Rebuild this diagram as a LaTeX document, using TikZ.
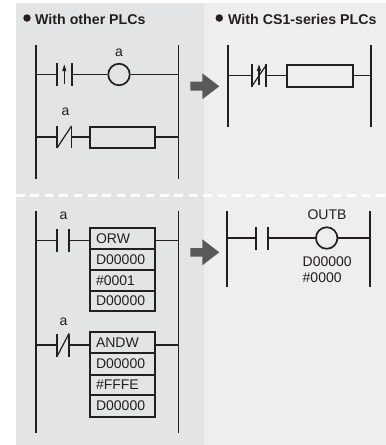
\documentclass[tikz,border=0pt]{standalone}
\usepackage{fontspec}
\setmainfont{Liberation Sans}
\definecolor{ink}{HTML}{231F20}
\definecolor{panelL}{HTML}{E3E4E6}
\definecolor{panelR}{HTML}{EEEEEE}
\definecolor{arrowgray}{HTML}{58595B}
\tikzset{
  rail/.style={draw=ink,line width=1.7pt},
  wire/.style={draw=ink,line width=1.5pt},
  bar/.style={draw=ink,line width=1.7pt},
  thin/.style={draw=ink,line width=1.2pt},
  coil/.style={circle,draw=ink,line width=1.7pt,minimum size=21.5pt,inner sep=0pt},
  fbox/.style={rectangle,draw=ink,line width=1.9pt,minimum width=65.5pt,minimum height=21.5pt,inner sep=0pt},
  cell/.style={fbox,text width=52.5pt,align=left,text=ink,font=\fontsize{14}{14}\selectfont},
  lab/.style={text=ink,inner sep=0pt,font=\fontsize{14}{14}\selectfont},
  title/.style={text=ink,inner sep=0pt,anchor=west,font=\fontsize{14.2}{16}\bfseries\selectfont},
  dot/.style={circle,fill=ink,minimum size=7.5pt,inner sep=0pt},
  bigarrow/.style={fill=arrowgray,draw=none},
}
\begin{document}
\begin{tikzpicture}[x=1pt,y=-1pt]
\useasboundingbox (0,0) rectangle (386,445);
% panels
\fill[panelL] (16,3) rectangle (204,445);
\fill[panelR] (204,3) rectangle (386,445);
\draw[white,line width=3.6pt,dash pattern=on 8.6pt off 5.8pt] (16,195.3) -- (386,195.3);
% titles
\node[dot] (d1) at (27,18) {};
\node[title] (t1) at (35,19) {With other PLCs};
\node[dot] (d2) at (219.3,18) {};
\node[title] (t2) at (228,19) {With CS1-series PLCs};
% block arrows
\fill[bigarrow] (190.3,81.7) -- (202.3,81.7) -- (202.3,73.3) -- (219.3,86.3) -- (202.3,99.3) -- (202.3,90.7) -- (190.3,90.7) -- cycle;
\fill[bigarrow] (190.3,248) -- (202.3,248) -- (202.3,239.3) -- (219.3,252.3) -- (202.3,265.3) -- (202.3,256.7) -- (190.3,256.7) -- cycle;

% ---- top left
\coordinate (a1) at (36,45); \coordinate (a2) at (36,179);
\coordinate (b1) at (178.5,45); \coordinate (b2) at (178.5,179);
\draw[rail] (a1) -- (a2); \draw[rail] (b1) -- (b2);
\coordinate (r1l) at (36,74.5); \coordinate (r1r) at (178.5,74.5);
\coordinate (c1a) at (57,74.5); \coordinate (c1b) at (72,74.5);
\node[coil] (k1) at (119,74.5) {};
\draw[wire] (r1l) -- (c1a); \draw[wire] (c1b) -- (k1); \draw[wire] (k1) -- (r1r);
\draw[bar] (57,63) -- (57,86); \draw[bar] (72,63) -- (72,86);
\draw[thin] (64.3,84) -- (64.3,70);
\fill[ink] (64.3,64.5) -- (66.5,71) -- (62.1,71) -- cycle;
\node[lab] (la1) at (119,52.5) {a};
\coordinate (r2l) at (36,137); \coordinate (r2r) at (178.5,137);
\coordinate (c2a) at (57,137); \coordinate (c2b) at (71.5,137);
\node[fbox] (bx1) at (122.3,137.5) {};
\draw[wire] (r2l) -- (c2a); \draw[wire] (c2b) -- (bx1.west |- r2l); \draw[wire] (bx1.east |- r2r) -- (r2r);
\draw[bar] (57,126) -- (57,148); \draw[bar] (71.5,126) -- (71.5,148);
\draw[thin] (57,148) -- (71.5,126);
\node[lab] (la2) at (65.5,112) {a};

% ---- top right
\coordinate (a3) at (228,45); \coordinate (a4) at (228,127);
\coordinate (b3) at (370.7,45); \coordinate (b4) at (370.7,127);
\draw[rail] (a3) -- (a4); \draw[rail] (b3) -- (b4);
\coordinate (r3l) at (228,75.3); \coordinate (r3r) at (370.7,75.3);
\coordinate (c3a) at (251.7,75.3); \coordinate (c3b) at (266.3,75.3);
\node[fbox] (bx2) at (320,76) {};
\draw[wire] (r3l) -- (c3a); \draw[wire] (c3b) -- (bx2.west |- r3l); \draw[wire] (bx2.east |- r3r) -- (r3r);
\draw[bar] (251.7,64) -- (251.7,86.5); \draw[bar] (266.3,64) -- (266.3,86.5);
\draw[thin] (251.7,86.5) -- (266.3,65);
\draw[thin] (259,85) -- (259,70);
\fill[ink] (259,64.5) -- (261.2,71) -- (256.8,71) -- cycle;

% ---- bottom left
\coordinate (a5) at (36,211); \coordinate (a6) at (36,433);
\coordinate (b5) at (178.5,211); \coordinate (b6) at (178.5,433);
\draw[rail] (a5) -- (a6); \draw[rail] (b5) -- (b6);
\coordinate (r5l) at (36,240.3); \coordinate (r5r) at (178.5,240.3);
\coordinate (c5a) at (57,240.3); \coordinate (c5b) at (69,240.3);
\node[cell,minimum height=21pt] (o1) at (122.3,238.5) {ORW};
\node[cell,minimum height=21pt] (o2) at (122.3,259.5) {D00000};
\node[cell,minimum height=20.7pt] (o3) at (122.3,280.3) {\#0001};
\node[cell,minimum height=20.7pt] (o4) at (122.3,301) {D00000};
\draw[wire] (r5l) -- (c5a); \draw[wire] (c5b) -- (o1.west |- r5l); \draw[wire] (o1.east |- r5r) -- (r5r);
\draw[bar] (57,229) -- (57,252); \draw[bar] (69,229) -- (69,252);
\node[lab] (la3) at (63.5,216) {a};

\coordinate (r6l) at (36,345); \coordinate (r6r) at (178.5,345);
\coordinate (c6a) at (57,345); \coordinate (c6b) at (69,345);
\node[cell,minimum height=21pt] (p1) at (122.3,342.8) {ANDW};
\node[cell,minimum height=21.3pt] (p2) at (122.3,364) {D00000};
\node[cell,minimum height=20.7pt] (p3) at (122.3,385) {\#FFFE};
\node[cell,minimum height=21.3pt] (p4) at (122.3,406) {D00000};
\draw[wire] (r6l) -- (c6a); \draw[wire] (c6b) -- (p1.west |- r6l); \draw[wire] (p1.east |- r6r) -- (r6r);
\draw[bar] (57,333.5) -- (57,356.5); \draw[bar] (69,333.5) -- (69,356.5);
\draw[thin] (57,356.5) -- (69,333.5);
\node[lab] (la4) at (63.5,321.5) {a};

% ---- bottom right
\coordinate (a7) at (227.3,211); \coordinate (a8) at (227.3,287);
\coordinate (b7) at (370,211); \coordinate (b8) at (370,287);
\draw[rail] (a7) -- (a8); \draw[rail] (b7) -- (b8);
\coordinate (r7l) at (227.3,238); \coordinate (r7r) at (370,238);
\coordinate (c7a) at (256.3,238); \coordinate (c7b) at (268,238);
\node[coil] (k2) at (326.7,238) {};
\draw[wire] (r7l) -- (c7a); \draw[wire] (c7b) -- (k2); \draw[wire] (k2) -- (r7r);
\draw[bar] (256.3,226.5) -- (256.3,249.5); \draw[bar] (268,226.5) -- (268,249.5);
\node[lab] (la5) at (327,214.5) {OUTB};
\node[lab,anchor=west] (la6) at (302.5,262) {D00000};
\node[lab,anchor=west] (la7) at (302.5,278) {\#0000};
\end{tikzpicture}
\end{document}
